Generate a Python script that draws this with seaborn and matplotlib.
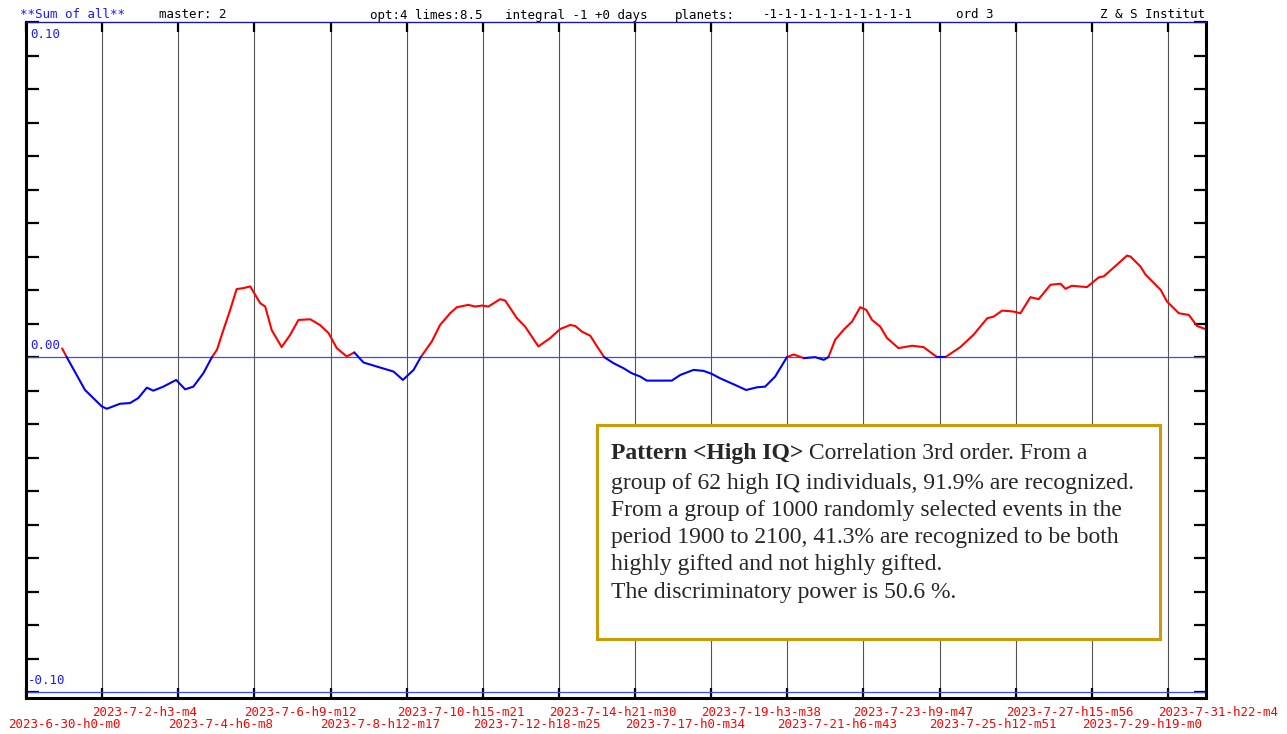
import numpy as np
import pandas as pd
import matplotlib
matplotlib.use("Agg")
import matplotlib.pyplot as plt
import seaborn as sns
from matplotlib.patches import Rectangle

# curve: days since 2023-6-30 h0 m0, correlation value
days = [1.01, 1.14, 1.65, 2.12, 2.26, 2.63, 2.91, 3.14, 3.38, 3.56, 3.84, 4.20, 4.45, 4.68,
        4.96, 5.20, 5.34, 5.52, 5.71, 5.89, 6.08, 6.27, 6.55, 6.69, 6.87, 7.15, 7.39, 7.62,
        7.95, 8.22, 8.46, 8.69, 8.97, 9.18, 9.44, 9.81, 10.28, 10.54, 10.84, 11.04, 11.35,
        11.58, 11.86, 12.05, 12.37, 12.56, 12.75, 12.93, 13.26, 13.40, 13.73, 13.96, 14.33,
        14.66, 14.94, 15.22, 15.36, 15.55, 15.78, 15.97, 16.17, 16.43, 16.71, 16.94, 17.18,
        17.36, 17.74, 18.06, 18.30, 18.67, 18.95, 19.18, 19.41, 19.79, 20.14, 20.44, 20.67,
        20.95, 21.28, 21.47, 21.75, 22.07, 22.31, 22.44, 22.63, 22.86, 23.10, 23.33, 23.50,
        23.66, 23.89, 24.08, 24.40, 24.78, 25.10, 25.48, 25.71, 26.13, 26.50, 26.88, 27.06,
        27.30, 27.62, 27.81, 28.09, 28.32, 28.65, 28.93, 29.07, 29.25, 29.67, 30.00, 30.14,
        30.51, 30.79, 30.89, 31.17, 31.31, 31.73, 31.91, 32.24, 32.52, 32.75, 32.98]
values = [0.0026, 0.0, -0.0098, -0.0147, -0.0154, -0.0139, -0.0137, -0.0122, -0.0091, -0.0100,
          -0.0088, -0.0068, -0.0096, -0.0088, -0.0048, 0.0, 0.0022, 0.0081, 0.0141, 0.0203,
          0.0206, 0.0211, 0.0161, 0.0151, 0.0081, 0.0030, 0.0067, 0.0111, 0.0113, 0.0096,
          0.0072, 0.0027, 0.0002, 0.0014, -0.0016, -0.0028, -0.0043, -0.0068, -0.0038, 0.0,
          0.0047, 0.0096, 0.0131, 0.0149, 0.0156, 0.0151, 0.0154, 0.0151, 0.0173, 0.0169,
          0.0116, 0.0091, 0.0032, 0.0057, 0.0084, 0.0096, 0.0093, 0.0076, 0.0064, 0.0032,
          0.0, -0.0018, -0.0033, -0.0048, -0.0058, -0.0070, -0.0070, -0.0070, -0.0053,
          -0.0038, -0.0041, -0.0050, -0.0063, -0.0081, -0.0098, -0.0090, -0.0088, -0.0058,
          0.0, 0.0008, -0.0003, 0.0, -0.0008, 0.0, 0.0052, 0.0081, 0.0106, 0.0149, 0.0141,
          0.0111, 0.0091, 0.0057, 0.0027, 0.0034, 0.0030, 0.0, 0.0, 0.0030, 0.0067, 0.0116,
          0.0121, 0.0139, 0.0136, 0.0131, 0.0179, 0.0173, 0.0216, 0.0219, 0.0204, 0.0213,
          0.0209, 0.0238, 0.0241, 0.0276, 0.0303, 0.0300, 0.0270, 0.0246, 0.0201, 0.0166,
          0.0131, 0.0126, 0.0093, 0.0084]

x_labels = ["2023-6-30-h0-m0", "2023-7-2-h3-m4", "2023-7-4-h6-m8", "2023-7-6-h9-m12",
            "2023-7-8-h12-m17", "2023-7-10-h15-m21", "2023-7-12-h18-m25", "2023-7-14-h21-m30",
            "2023-7-17-h0-m34", "2023-7-19-h3-m38", "2023-7-21-h6-m43", "2023-7-23-h9-m47",
            "2023-7-25-h12-m51", "2023-7-27-h15-m56", "2023-7-29-h19-m0", "2023-7-31-h22-m4"]
y_labels = {0.10: "0.10", 0.0: "0.00", -0.10: "-0.10"}

header = [("**Sum of all**", 20, "#1a1aff"), ("master: 2", 159, "black"),
          ("opt:4 limes:8.5", 370, "black"), ("integral -1 +0 days", 505, "black"),
          ("planets:", 675, "black"), ("-1-1-1-1-1-1-1-1-1-1", 763, "black"),
          ("ord 3", 956, "black"), ("Z & S Institut", 1100, "black")]

note_bold = "Pattern <High IQ>"
note_lines = [" Correlation 3rd order. From a",
              "group of 62 high IQ individuals, 91.9% are recognized.",
              "From a group of 1000 randomly selected events in the",
              "period 1900 to 2100, 41.3% are recognized to be both",
              "highly gifted and not highly gifted.",
              "The discriminatory power is 50.6 %."]

sns.set_style("white")
plt.rcParams["font.family"] = ["DejaVu Sans Mono"]

W, H = 1287, 734
fig = plt.figure(figsize=(W / 100, H / 100), dpi=100)
ax = fig.add_axes([26 / W, 1 - 698 / H, 1180 / W, 676 / H])

# split the curve into red (above zero) and blue (below zero) pieces
v = np.array(values)
rows = []
seg = 0
prev = None
for i in range(len(v) - 1):
    col = "pos" if v[i] + v[i + 1] > 0 else "neg"
    if col != prev:
        seg += 1
        rows.append((days[i], v[i], seg, col))
        prev = col
    rows.append((days[i + 1], v[i + 1], seg, col))
df = pd.DataFrame(rows, columns=["day", "value", "seg", "color"])

sns.lineplot(data=df, x="day", y="value", units="seg", estimator=None, hue="color",
             palette={"pos": "#ff0000", "neg": "#0000ff"}, legend=False, sort=False,
             lw=1.5, ax=ax)

step = 33 / 15.5
xticks = np.arange(16) * step
ax.set_xlim(0, 33)
ax.set_ylim(-0.1017, 0.10)
ax.set_xticks(xticks)
ax.set_yticks(np.round(np.arange(-0.10, 0.1001, 0.01), 2))
ax.set_xlabel("")
ax.set_ylabel("")
ax.tick_params(direction="in", length=9, width=1.6, color="black",
               left=True, bottom=True, top=True, right=True,
               labelbottom=False, labelleft=False)
ax.tick_params(axis="x", length=7)
ax.grid(axis="x", color="#555555", lw=0.8)
ax.grid(axis="y", visible=False)
ax.axhline(0, color="#3a4bff", lw=0.9, zorder=1)
ax.axhline(-0.10, color="#3a4bff", lw=0.9, zorder=1)

for side in ["left", "right", "bottom"]:
    ax.spines[side].set_color("black")
    ax.spines[side].set_linewidth(2.2)
ax.spines["top"].set_color("#1a1a99")
ax.spines["top"].set_linewidth(1.0)

for val, txt in y_labels.items():
    dy = -12 if val > 0 else 12
    dx = 2 if val < 0 else 4
    ax.annotate(txt, xy=(0, val), xycoords=("axes fraction", "data"),
                xytext=(dx * 0.72, dy * 0.72), textcoords="offset points",
                ha="left", va="center", color="#1a1aff", fontsize=9)

for i, (tx, lab) in enumerate(zip(xticks, x_labels)):
    dy = -26 if i % 2 == 0 else -14
    dx = -18 if i == 0 else -10
    ax.annotate(lab, xy=(tx, 0), xycoords=("data", "axes fraction"),
                xytext=(dx * 0.72, dy * 0.72), textcoords="offset points",
                ha="left", va="center", color="#ff0000", fontsize=9, annotation_clip=False)

for txt, px, col in header:
    fig.text(px / W, 1 - 15 / H, txt, ha="left", va="center", color=col, fontsize=9)

# annotation box
fig.patches.append(Rectangle((597 / W, 1 - 639 / H), 563 / W, 214 / H, transform=fig.transFigure,
                             fill=True, facecolor="white", edgecolor="#cc9a0a", lw=2.2, zorder=5))
serif = ["Liberation Serif", "DejaVu Serif"]
fs = 17
base_y = [459, 489, 516, 543, 570, 598]
t = fig.text(611 / W, 1 - base_y[0] / H, note_bold, ha="left", va="baseline", fontsize=fs,
             fontweight="bold", family=serif, zorder=6)
r = fig.canvas.get_renderer()
bb = t.get_window_extent(renderer=r)
fig.text(bb.x1 / W, 1 - base_y[0] / H, note_lines[0], ha="left", va="baseline",
         fontsize=fs, family=serif, zorder=6)
for line, by in zip(note_lines[1:], base_y[1:]):
    fig.text(611 / W, 1 - by / H, line, ha="left", va="baseline", fontsize=fs,
             family=serif, zorder=6)

fig.savefig("out.png", dpi=100)
